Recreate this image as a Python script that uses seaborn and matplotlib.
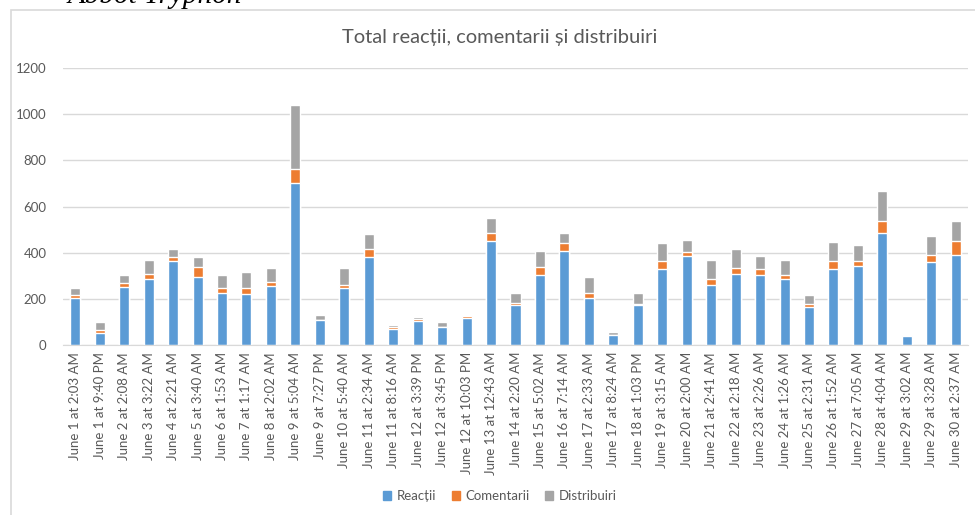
import pandas as pd
import matplotlib.pyplot as plt
import seaborn as sns
from matplotlib.patches import Patch, Rectangle

# Post timestamps (category axis)
labels = [
    "June 1 at 2:03 AM", "June 1 at 9:40 PM", "June 2 at 2:08 AM", "June 3 at 3:22 AM",
    "June 4 at 2:21 AM", "June 5 at 3:40 AM", "June 6 at 1:53 AM", "June 7 at 1:17 AM",
    "June 8 at 2:02 AM", "June 9 at 5:04 AM", "June 9 at 7:27 PM", "June 10 at 5:40 AM",
    "June 11 at 2:34 AM", "June 11 at 8:16 AM", "June 12 at 3:39 PM", "June 12 at 3:45 PM",
    "June 12 at 10:03 PM", "June 13 at 12:43 AM", "June 14 at 2:20 AM", "June 15 at 5:02 AM",
    "June 16 at 7:14 AM", "June 17 at 2:33 AM", "June 17 at 8:24 AM", "June 18 at 1:03 PM",
    "June 19 at 3:15 AM", "June 20 at 2:00 AM", "June 21 at 2:41 AM", "June 22 at 2:18 AM",
    "June 23 at 2:26 AM", "June 24 at 1:26 AM", "June 25 at 2:31 AM", "June 26 at 1:52 AM",
    "June 27 at 7:05 AM", "June 28 at 4:04 AM", "June 29 at 3:02 AM", "June 29 at 3:28 AM",
    "June 30 at 2:37 AM",
]

reactii = [204, 52, 250, 286, 362, 296, 227, 219, 257, 702, 108, 245, 383, 69, 105, 79,
           116, 449, 172, 302, 406, 204, 43, 172, 331, 384, 261, 309, 305, 287, 166, 329,
           341, 485, 38, 358, 388]
comentarii = [13, 14, 17, 23, 21, 43, 18, 26, 17, 62, 2, 16, 31, 9, 9, 1,
              8, 38, 9, 34, 36, 20, 1, 7, 31, 17, 25, 26, 24, 15, 13, 36,
              21, 52, 1, 30, 64]
distribuiri = [31, 35, 35, 59, 31, 42, 60, 71, 61, 274, 21, 71, 68, 10, 6, 19,
               5, 63, 43, 70, 43, 72, 11, 45, 80, 55, 82, 79, 55, 66, 36, 80,
               73, 132, 6, 86, 85]

df = pd.DataFrame({"post": labels, "r": reactii, "c": comentarii, "d": distribuiri})
df["rc"] = df["r"] + df["c"]
df["total"] = df["rc"] + df["d"]

blue, orange, gray = "#5B9BD5", "#ED7D31", "#A5A5A5"
txt = "#595959"

sns.set_style("white")
plt.rcParams["font.family"] = ["Lato", "DejaVu Sans"]

fig = plt.figure(figsize=(9.75, 5.15), dpi=100)
ax = fig.add_axes([63 / 975, 1 - 345 / 515, 905 / 975, 277 / 515])

# stacked bars drawn back to front: total, reactions+comments, reactions
w = 0.41
sns.barplot(data=df, x="post", y="total", color=gray, width=w, saturation=1, ax=ax)
sns.barplot(data=df, x="post", y="rc", color=orange, width=w, saturation=1, ax=ax)
sns.barplot(data=df, x="post", y="r", color=blue, width=w, saturation=1, ax=ax)

ax.set_xlim(-0.5, len(labels) - 0.5)
ax.set_ylim(0, 1200)
ax.set_yticks(range(0, 1201, 200))
ax.set_xlabel("")
ax.set_ylabel("")
ax.grid(axis="y", color="#D9D9D9", linewidth=1)
ax.set_axisbelow(True)
for s in ["top", "right", "left"]:
    ax.spines[s].set_visible(False)
ax.spines["bottom"].set_color("#D9D9D9")
ax.tick_params(axis="x", rotation=90, labelsize=9.5, colors=txt, length=0, pad=5)
ax.tick_params(axis="y", labelsize=9.5, colors=txt, length=0, pad=12)

fig.text(500 / 975, 1 - 38 / 515, "Total reacții, comentarii și distribuiri",
         ha="center", va="center", fontsize=14.5, color=txt)

handles = [Patch(color=blue, label="Reacții"), Patch(color=orange, label="Comentarii"),
           Patch(color=gray, label="Distribuiri")]
leg = fig.legend(handles=handles, loc="center", bbox_to_anchor=(500 / 975, 1 - 496 / 515),
                 ncol=3, frameon=False, fontsize=9.5, handlelength=0.6, handleheight=0.6,
                 handletextpad=0.4, columnspacing=1.2)
for t in leg.get_texts():
    t.set_color(txt)

# chart frame and the clipped heading of the page above it
fig.patches.append(Rectangle((11 / 975, -0.1), 1.2, 1.1 - 10 / 515, transform=fig.transFigure,
                             fill=False, edgecolor="#D9D9D9", linewidth=1.2))
fig.text(68 / 975, 1 - 3 / 515, "Abbot Tryphon", ha="left", va="baseline",
         fontsize=21, style="italic", family="Liberation Serif", color="black")

fig.savefig("out.png", dpi=100)
